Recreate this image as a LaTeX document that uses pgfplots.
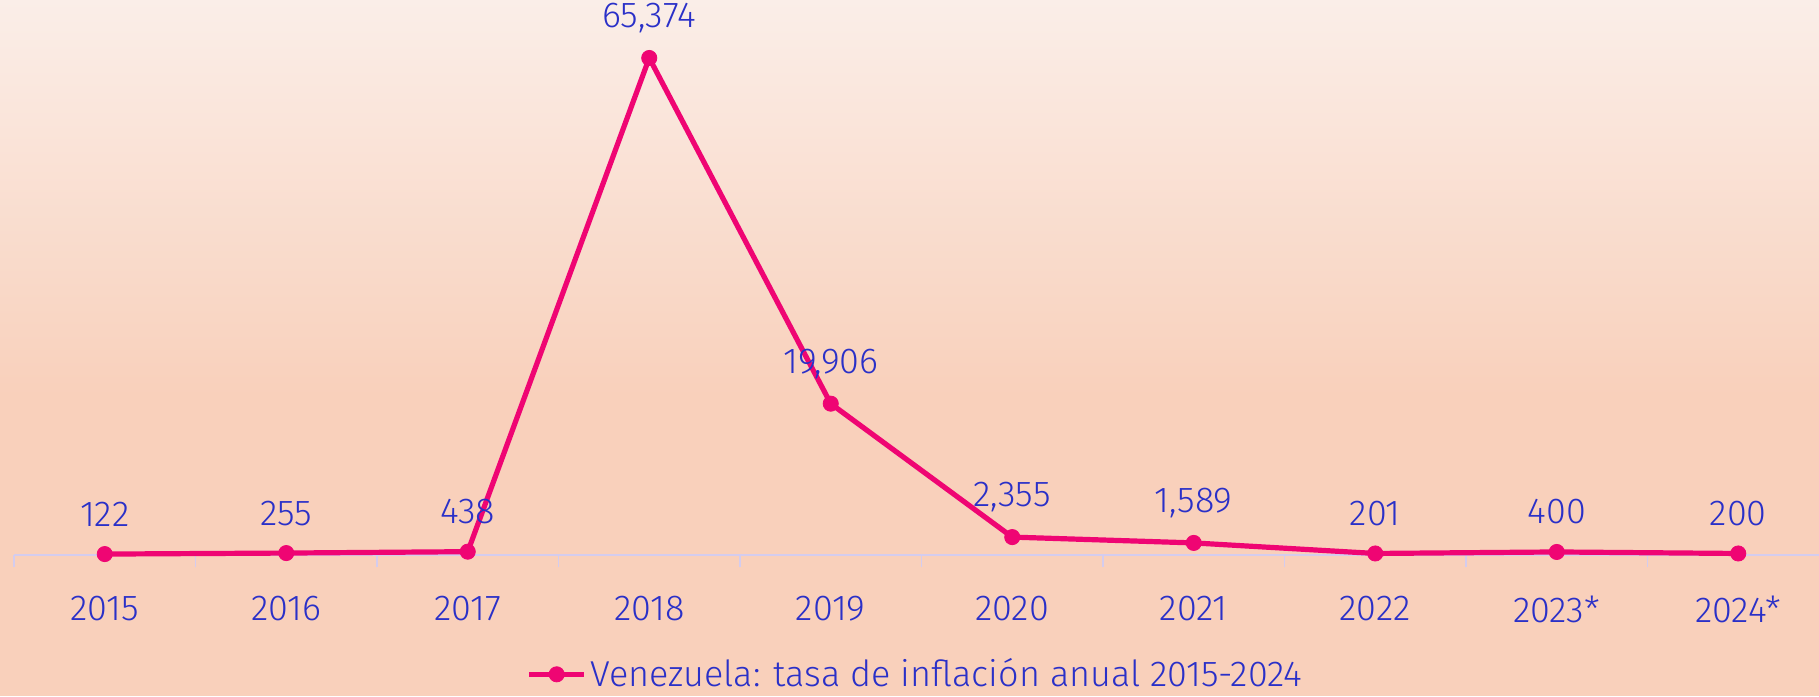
\documentclass[border=0pt]{standalone}
\usepackage{pgfplots}
\pgfplotsset{compat=1.18}
\usepackage{fontspec}
\IfFontExistsTF{Fira Sans Light}{\setmainfont{Fira Sans Light}}{\setmainfont{Fira Sans}}
\definecolor{bgtop}{HTML}{FAEEE8}
\definecolor{bgbot}{HTML}{F9D0BB}
\definecolor{txt}{HTML}{2A30C8}
\definecolor{mag}{HTML}{EF0573}
\definecolor{axl}{HTML}{D4CCEE}
\begin{document}
\begin{tikzpicture}[x=1pt,y=1pt]
\useasboundingbox (0,0) rectangle (909.5,348);
\fill[bgbot] (0,0) rectangle (909.5,348);
\shade[top color=bgtop,bottom color=bgbot] (0,150) rectangle (909.5,348);
\begin{axis}[
  at={(7pt,70.5pt)}, anchor=south west,
  scale only axis, width=902.5pt, height=277.5pt,
  xmin=-0.5, xmax=9.445, ymin=0, ymax=73002,
  axis x line*=bottom, axis y line=none,
  axis line style={axl, line width=0.8pt},
  xtick={0,...,9},
  xticklabels={2015,2016,2017,2018,2019,2020,2021,2022,2023*,2024*},
  major tick length=0pt,
  tick align=outside,
  extra x ticks={-0.5,0.5,1.5,2.5,3.5,4.5,5.5,6.5,7.5,8.5},
  extra x tick labels={},
  extra x tick style={major tick length=6pt, tick style={axl, line width=0.8pt}},
  xticklabel style={font=\fontsize{18}{20}\selectfont, text=txt, anchor=center, yshift=-27pt},
  nodes near coords,
  point meta=explicit symbolic,
  nodes near coords style={font=\fontsize{18}{20}\selectfont, text=txt, anchor=center, yshift=20pt},
  clip=false,
  legend style={at={(0.5,-0.215)}, anchor=center, draw=none, fill=none,
    font=\fontsize{18}{20}\selectfont, text=txt, inner sep=0pt},
  legend image code/.code={\draw[mark repeat=2,mark phase=2] plot coordinates {(0cm,0cm)(0.48cm,0cm)(0.96cm,0cm)};},
]
\addplot[mag, line width=2.6pt, mark=*, mark size=3.8pt, mark options={line width=0.4pt}] table[meta=lab]{
x y lab
0 122 122
1 255 255
2 438 438
3 65374 65,374
4 19906 19,906
5 2355 2,355
6 1589 1,589
7 201 201
8 400 400
9 200 200
};
\addlegendentry{Venezuela: tasa de inflación anual 2015-2024}
\end{axis}
\end{tikzpicture}
\end{document}
